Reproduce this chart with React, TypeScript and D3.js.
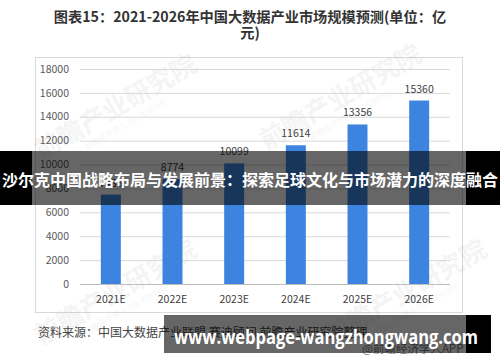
import * as d3 from "d3";

const categories = ["2021E", "2022E", "2023E", "2024E", "2025E", "2026E"];
const marketSize = [7486, 8774, 10099, 11614, 13356, 15360];
const yTicks = [0, 2000, 4000, 6000, 8000, 10000, 12000, 14000, 16000, 18000];

const titleLines = ["图表15：2021-2026年中国大数据产业市场规模预测(单位：亿", "元)"];
const sourceText = "资料来源：中国大数据产业联盟 赛迪顾问 前瞻产业研究院整理";
const creditText = "@前瞻经济学人APP";
const bannerText = "沙尔克中国战略布局与发展前景：探索足球文化与市场潜力的深度融合";
const urlText = "www.webpage-wangzhongwang.com";
const watermarks = [
  [120, 115],
  [345, 105],
  [120, 300],
  [410, 300],
];

const W = 500;
const H = 362;
const FONT = "'Noto Sans CJK SC', 'Noto Sans', sans-serif";

export default function App() {
  const plot = { left: 80, right: 450, top: 69, bottom: 284 };
  const x = d3.scaleBand().domain(categories).range([plot.left, plot.right]).paddingInner(0.676).paddingOuter(0.338);
  const y = d3.scaleLinear().domain([0, 18000]).range([plot.bottom, plot.top]);

  return (
    <div style={{ position: "fixed", left: 0, top: 0 }}>
      <svg width={W} height={H} style={{ display: "block", background: "#fff" }} fontFamily={FONT}>
        {titleLines.map((t, i) => (
          <text key={t} x={250} y={22 + i * 16} textAnchor="middle" fontSize={14.2} fontWeight="bold" fill="#333">
            {t}
          </text>
        ))}

        <rect x={35.5} y={57.5} width={427} height={255} fill="none" stroke="#d9d9d9" />

        {watermarks.map(([cx, cy], i) => (
          <g key={i} transform={`translate(${cx},${cy}) rotate(-30)`} opacity={0.06} fill="#555">
            <text textAnchor="middle" fontSize={26} fontWeight="bold">前瞻产业研究院</text>
            <text y={14} textAnchor="middle" fontSize={8}>前瞻经济学人 (ID: 839598)</text>
          </g>
        ))}

        {yTicks.map((t) => (
          <g key={t}>
            <line x1={plot.left} x2={plot.right} y1={y(t) + 0.5} y2={y(t) + 0.5} stroke={t === 0 ? "#bfbfbf" : "#d9d9d9"} />
            <text x={69} y={y(t)} dy="0.35em" textAnchor="end" fontSize={10.5} fill="#595959">
              {t}
            </text>
          </g>
        ))}

        {categories.map((c, i) => (
          <g key={c}>
            <rect x={x(c)} y={y(marketSize[i])} width={x.bandwidth()} height={plot.bottom - y(marketSize[i])} fill="#3c84e0" />
            <text x={(x(c) as number) + x.bandwidth() / 2} y={y(marketSize[i]) - 8} textAnchor="middle" fontSize={10.5} fill="#404040">
              {marketSize[i]}
            </text>
            <text x={(x(c) as number) + x.bandwidth() / 2} y={299} dy="0.35em" textAnchor="middle" fontSize={10.5} fill="#404040">
              {c}
            </text>
          </g>
        ))}

        <text x={38} y={333} dy="0.35em" fontSize={12} fill="#444">{sourceText}</text>
        <text x={362} y={349} dy="0.35em" fontSize={11.5} fill="#777">{creditText}</text>

        {/* overlay banners */}
        <rect x={0} y={151} width={W} height={54} fill="#000" opacity={0.6} />
        <rect x={0} y={151} width={32} height={54} fill="#000" />
        <rect x={466} y={151} width={34} height={54} fill="#000" />
        <text x={250} y={186} textAnchor="middle" fontSize={16} fontWeight="bold" fill="#fff">
          {bannerText}
        </text>

        <rect x={164} y={315} width={302} height={38} fill="#000" opacity={0.6} />
        <rect x={466} y={315} width={25} height={38} fill="#000" />
        <text x={174} y={337} dy="0.35em" fontSize={19} fontWeight="bold" fill="#fff" textLength={304} lengthAdjust="spacingAndGlyphs" fontFamily="'Open Sans', 'Noto Sans', sans-serif">
          {urlText}
        </text>
      </svg>
    </div>
  );
}
